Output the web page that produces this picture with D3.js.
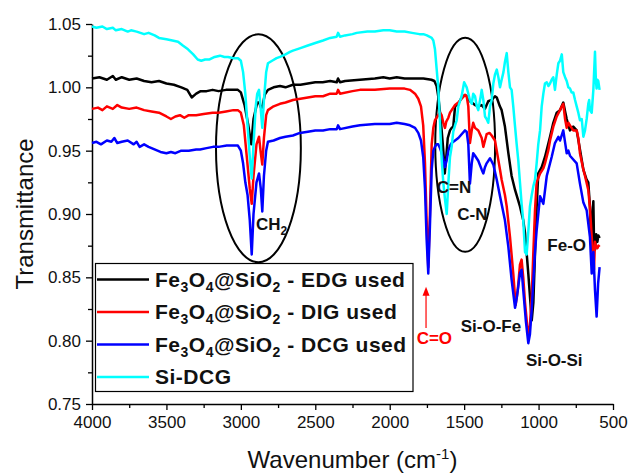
<!DOCTYPE html>
<html><head><meta charset="utf-8">
<script src="https://cdn.jsdelivr.net/npm/d3@7/dist/d3.min.js"></script>
<style>body{margin:0;background:#fff}svg{display:block}text{font-family:"Liberation Sans",Arial,sans-serif}</style>
</head><body><svg id="c" width="628" height="473"></svg>
<script>
const xTicks = [4000,3500,3000,2500,2000,1500,1000,500];
const xMinor = [3750,3250,2750,2250,1750,1250,750];
const yTicks = [0.75,0.80,0.85,0.90,0.95,1.00,1.05];
const yMinor = [0.775,0.825,0.875,0.925,0.975,1.025];
const seriesLabels = ["EDG used","DIG used","DCG used","Si-DCG"];
const seriesColors = ["#000000","#ff0000","#0000ff","#00ffff"];

const edg = [[4000,1.007],[3950,1.008],[3900,1.006],[3860,1.009],[3840,1.006],[3800,1.008],[3750,1.006],[3700,1.007],[3650,1.005],[3600,1.004],[3550,1.005],[3500,1.003],[3450,1.002],[3400,1.000],[3360,0.998],[3330,0.992],[3300,0.995],[3270,0.997],[3230,0.997],[3190,0.998],[3150,0.997],[3100,0.998],[3050,0.998],[3020,0.998],[3000,0.996],[2975,0.986],[2950,0.970],[2930,0.955],[2915,0.975],[2890,0.988],[2878,0.988],[2865,0.984],[2856,0.984],[2840,0.994],[2818,0.998],[2780,1.000],[2737,1.001],[2700,1.000],[2650,1.002],[2600,1.002],[2500,1.004],[2450,1.004],[2400,1.005],[2356,1.004],[2347,1.007],[2334,1.004],[2300,1.005],[2200,1.006],[2100,1.007],[2043,1.008],[2000,1.007],[1953,1.008],[1900,1.007],[1800,1.007],[1774,1.007],[1720,1.006],[1700,1.005],[1685,1.001],[1674,0.993],[1662,0.980],[1651,0.966],[1640,0.950],[1630,0.932],[1620,0.945],[1610,0.960],[1595,0.966],[1584,0.968],[1573,0.969],[1561,0.985],[1539,0.987],[1517,0.992],[1494,0.994],[1483,0.993],[1461,0.989],[1449,0.988],[1427,0.986],[1405,0.985],[1382,0.986],[1360,0.983],[1338,0.989],[1315,0.990],[1293,0.993],[1281,0.992],[1260,0.985],[1248,0.982],[1226,0.969],[1203,0.948],[1181,0.930],[1158,0.919],[1125,0.906],[1103,0.895],[1091,0.885],[1069,0.853],[1046,0.816],[1035,0.830],[1024,0.869],[1013,0.905],[1002,0.932],[979,0.937],[957,0.945],[923,0.961],[901,0.972],[878,0.980],[856,0.982],[834,0.988],[820,0.980],[811,0.975],[800,0.970],[789,0.966],[767,0.969],[744,0.966],[722,0.951],[699,0.935],[677,0.927],[666,0.925],[655,0.906],[645,0.872],[638,0.900],[632,0.910],[627,0.875],[620,0.872],[613,0.884],[605,0.878],[598,0.883],[590,0.881]];

const dig = [[4000,0.983],[3960,0.984],[3930,0.982],[3900,0.985],[3860,0.983],[3830,0.986],[3800,0.984],[3750,0.983],[3700,0.984],[3650,0.982],[3600,0.981],[3550,0.980],[3500,0.977],[3470,0.975],[3440,0.977],[3409,0.978],[3380,0.976],[3350,0.978],[3300,0.978],[3250,0.979],[3190,0.980],[3150,0.980],[3100,0.981],[3050,0.982],[3020,0.982],[3000,0.980],[2980,0.970],[2960,0.945],[2940,0.920],[2927,0.908],[2915,0.930],[2895,0.955],[2878,0.961],[2868,0.950],[2856,0.939],[2845,0.960],[2830,0.978],[2818,0.982],[2780,0.985],[2737,0.987],[2700,0.988],[2650,0.990],[2600,0.991],[2500,0.993],[2448,0.993],[2400,0.995],[2356,0.995],[2347,0.998],[2334,0.995],[2250,0.997],[2200,0.998],[2100,0.998],[2000,0.999],[1953,0.999],[1900,0.999],[1864,0.998],[1830,0.995],[1808,0.991],[1790,0.985],[1775,0.970],[1763,0.940],[1752,0.895],[1741,0.858],[1730,0.900],[1718,0.955],[1707,0.968],[1696,0.974],[1674,0.978],[1662,0.980],[1651,0.978],[1640,0.972],[1629,0.968],[1620,0.973],[1606,0.976],[1595,0.980],[1584,0.982],[1561,0.986],[1550,0.987],[1539,0.988],[1517,0.991],[1494,0.994],[1483,0.993],[1472,0.985],[1461,0.956],[1449,0.966],[1439,0.972],[1427,0.968],[1405,0.966],[1382,0.960],[1371,0.953],[1360,0.958],[1349,0.963],[1330,0.964],[1315,0.962],[1293,0.958],[1281,0.950],[1271,0.943],[1259,0.935],[1248,0.927],[1226,0.915],[1214,0.906],[1192,0.882],[1170,0.853],[1154,0.828],[1140,0.840],[1125,0.860],[1114,0.864],[1103,0.850],[1091,0.830],[1075,0.810],[1069,0.806],[1058,0.812],[1046,0.835],[1035,0.870],[1024,0.903],[1013,0.925],[990,0.932],[968,0.936],[957,0.940],[935,0.950],[923,0.958],[901,0.969],[878,0.977],[856,0.982],[844,0.985],[834,0.987],[822,0.975],[811,0.968],[800,0.972],[789,0.970],[767,0.966],[744,0.966],[733,0.960],[722,0.948],[699,0.935],[688,0.930],[666,0.919],[655,0.905],[643,0.882],[636,0.870],[628,0.856],[621,0.878],[615,0.875],[605,0.873],[598,0.875],[590,0.874]];

const dcg = [[4000,0.956],[3970,0.957],[3940,0.955],[3900,0.958],[3870,0.957],[3850,0.960],[3830,0.956],[3800,0.957],[3760,0.958],[3720,0.955],[3700,0.957],[3680,0.953],[3650,0.955],[3620,0.953],[3580,0.951],[3540,0.949],[3500,0.948],[3470,0.949],[3440,0.948],[3400,0.950],[3350,0.950],[3300,0.951],[3274,0.951],[3230,0.952],[3187,0.953],[3150,0.953],[3095,0.954],[3050,0.954],[3020,0.954],[3000,0.950],[2985,0.940],[2970,0.925],[2955,0.915],[2940,0.895],[2927,0.868],[2915,0.900],[2895,0.925],[2878,0.932],[2866,0.920],[2856,0.902],[2845,0.930],[2830,0.950],[2818,0.957],[2780,0.958],[2737,0.960],[2700,0.961],[2650,0.962],[2603,0.964],[2550,0.965],[2500,0.966],[2448,0.966],[2400,0.967],[2356,0.967],[2347,0.970],[2334,0.967],[2250,0.969],[2200,0.970],[2100,0.971],[2043,0.971],[2000,0.971],[1953,0.972],[1900,0.971],[1864,0.970],[1830,0.968],[1808,0.964],[1790,0.958],[1775,0.945],[1763,0.920],[1752,0.880],[1741,0.853],[1730,0.890],[1718,0.935],[1707,0.950],[1696,0.953],[1685,0.955],[1674,0.955],[1662,0.952],[1651,0.948],[1640,0.943],[1629,0.937],[1618,0.942],[1606,0.950],[1595,0.954],[1584,0.956],[1561,0.958],[1539,0.960],[1517,0.963],[1494,0.966],[1483,0.965],[1472,0.955],[1461,0.924],[1449,0.940],[1439,0.948],[1427,0.946],[1405,0.942],[1382,0.935],[1371,0.932],[1360,0.937],[1349,0.940],[1326,0.944],[1304,0.939],[1281,0.927],[1259,0.914],[1226,0.895],[1203,0.874],[1181,0.848],[1158,0.826],[1145,0.835],[1125,0.853],[1114,0.856],[1103,0.840],[1085,0.815],[1069,0.798],[1058,0.805],[1046,0.825],[1024,0.870],[1013,0.887],[990,0.914],[968,0.908],[945,0.930],[912,0.945],[890,0.956],[867,0.961],[856,0.958],[834,0.966],[820,0.955],[811,0.948],[800,0.950],[789,0.946],[767,0.943],[744,0.940],[722,0.924],[699,0.909],[677,0.903],[655,0.882],[643,0.853],[632,0.870],[621,0.840],[610,0.819],[600,0.845],[590,0.858]];

const sidcg = [[4000,1.048],[3970,1.047],[3930,1.048],[3900,1.046],[3860,1.047],[3840,1.045],[3800,1.046],[3760,1.044],[3738,1.045],[3700,1.044],[3650,1.042],[3620,1.043],[3579,1.041],[3550,1.039],[3500,1.038],[3460,1.037],[3422,1.036],[3390,1.033],[3355,1.030],[3320,1.026],[3290,1.022],[3266,1.021],[3240,1.022],[3210,1.022],[3176,1.024],[3140,1.025],[3110,1.024],[3086,1.024],[3050,1.023],[3019,1.023],[3000,1.021],[2985,1.012],[2970,0.995],[2955,0.970],[2940,0.945],[2927,0.928],[2915,0.955],[2900,0.985],[2890,0.995],[2878,0.998],[2868,0.985],[2856,0.968],[2845,0.990],[2830,1.012],[2818,1.019],[2790,1.021],[2760,1.023],[2737,1.024],[2700,1.026],[2670,1.028],[2650,1.029],[2600,1.031],[2550,1.033],[2500,1.035],[2448,1.037],[2400,1.039],[2356,1.040],[2347,1.043],[2334,1.040],[2300,1.041],[2250,1.042],[2222,1.043],[2150,1.044],[2100,1.044],[2043,1.045],[2000,1.045],[1953,1.044],[1900,1.044],[1850,1.043],[1800,1.042],[1774,1.042],[1750,1.041],[1718,1.039],[1707,1.037],[1696,1.030],[1685,1.015],[1674,1.000],[1662,0.972],[1651,0.943],[1640,0.925],[1629,0.912],[1617,0.900],[1606,0.925],[1595,0.945],[1584,0.953],[1573,0.965],[1561,0.970],[1550,0.974],[1539,0.985],[1517,0.993],[1500,1.004],[1483,1.000],[1461,0.990],[1449,0.987],[1439,0.995],[1427,0.993],[1415,0.985],[1405,0.982],[1390,0.992],[1382,0.998],[1371,0.990],[1360,0.977],[1349,0.975],[1338,0.972],[1326,0.985],[1315,0.990],[1304,1.003],[1293,1.010],[1281,1.014],[1270,1.008],[1259,1.000],[1248,1.006],[1236,1.012],[1226,1.020],[1214,1.027],[1203,1.012],[1192,1.000],[1181,0.998],[1170,0.985],[1158,0.969],[1147,0.955],[1136,0.942],[1125,0.925],[1114,0.908],[1103,0.895],[1091,0.870],[1080,0.868],[1069,0.886],[1058,0.906],[1046,0.915],[1035,0.922],[1024,0.927],[1013,0.940],[1002,0.955],[990,0.966],[979,0.985],[968,0.995],[957,1.003],[945,1.004],[934,1.001],[923,1.003],[912,1.006],[901,1.008],[890,0.998],[878,1.010],[867,1.019],[856,1.021],[844,1.026],[834,1.012],[822,1.008],[811,1.005],[800,1.000],[789,0.999],[778,0.996],[767,0.996],[755,0.990],[744,0.985],[733,0.980],[722,0.974],[710,0.975],[699,0.961],[688,0.966],[677,0.975],[666,0.987],[660,0.990],[655,0.982],[643,0.980],[632,0.998],[621,1.028],[615,1.005],[610,0.999],[605,1.006],[599,1.005],[590,0.998]];

const seriesData = [edg, dig, dcg, sidcg];

// annotations in data units
const peakLabels = [
  {t:"C=N", wn:1684, v:0.9163},
  {t:"C-N", wn:1546, v:0.8953},
  {t:"Fe-O", wn:941, v:0.871},
  {t:"Si-O-Fe", wn:1523, v:0.8071},
  {t:"Si-O-Si", wn:1085, v:0.780}
];
const ellipses = [{wn:2882, v:0.9519, rw:285, rv:0.090},{wn:1493, v:0.9547, rw:201, rv:0.0845}];

const svg = d3.select("#c");
const L=92, R=613, T=24, B=404;
const x = d3.scaleLinear().domain([4000,500]).range([L,R]);
const y = d3.scaleLinear().domain([0.75,1.05]).range([B,T]);

// axes
const gx = svg.append("g").attr("transform",`translate(0,${B})`);
gx.call(d3.axisBottom(x).tickValues(xTicks).tickSize(6).tickSizeOuter(0).tickPadding(6).tickFormat(d3.format("d")));
const gxm = svg.append("g").attr("transform",`translate(0,${B})`);
gxm.call(d3.axisBottom(x).tickValues(xMinor).tickSize(4).tickSizeOuter(0).tickFormat(""));
gxm.select(".domain").remove();
const gy = svg.append("g").attr("transform",`translate(${L},0)`);
gy.call(d3.axisLeft(y).tickValues(yTicks).tickSize(6).tickSizeOuter(0).tickPadding(5).tickFormat(d3.format(".2f")));
const gym = svg.append("g").attr("transform",`translate(${L},0)`);
gym.call(d3.axisLeft(y).tickValues(yMinor).tickSize(4).tickSizeOuter(0).tickFormat(""));
gym.select(".domain").remove();
svg.selectAll(".domain").attr("stroke","#000").attr("stroke-width",1.5);
svg.selectAll(".tick line").attr("stroke","#000").attr("stroke-width",1.3);
svg.selectAll(".tick text").attr("font-size",17).attr("fill","#111").style("font-family","'Liberation Sans',Arial,sans-serif");

// axis titles
const xt = svg.append("text").attr("x",(L+R)/2).attr("y",468).attr("text-anchor","middle").attr("font-size",24).attr("fill","#111");
xt.append("tspan").text("Wavenumber (cm");
xt.append("tspan").attr("dy",-9).attr("font-size",15).text("-1");
xt.append("tspan").attr("dy",9).text(")");
svg.append("text").attr("transform","translate(33,214) rotate(-90)").attr("text-anchor","middle").attr("font-size",24).attr("fill","#111").text("Transmittance");

// ellipses
ellipses.forEach(e=>{
  svg.append("ellipse").attr("cx",x(e.wn)).attr("cy",y(e.v))
    .attr("rx",Math.abs(x(e.wn+e.rw)-x(e.wn))).attr("ry",Math.abs(y(e.v+e.rv)-y(e.v)))
    .attr("fill","none").attr("stroke","#000").attr("stroke-width",2);
});

// lines
const line = d3.line().x(d=>x(d[0])).y(d=>y(d[1]));
seriesData.forEach((s,i)=>{
  svg.append("path").datum(s).attr("d",line).attr("fill","none")
    .attr("stroke",seriesColors[i]).attr("stroke-width",2.5).attr("stroke-linejoin","round");
});

// peak labels
const ab = svg.append("g").attr("font-weight","bold").attr("font-size",17).attr("fill","#111");
peakLabels.forEach(p=>{ ab.append("text").attr("x",x(p.wn)).attr("y",y(p.v)).text(p.t); });
const ch = ab.append("text").attr("x",x(2898)).attr("y",y(0.8874));
ch.append("tspan").text("CH");
ch.append("tspan").attr("dy",5).attr("font-size",12).text("2");
// C=O and arrow
svg.append("text").attr("x",x(1819)).attr("y",y(0.7974)).attr("font-weight","bold").attr("font-size",17).attr("fill","#ff0000").text("C=O");
const ax = x(1756);
svg.append("line").attr("x1",ax).attr("x2",ax).attr("y1",y(0.810)).attr("y2",y(0.838)).attr("stroke","#ff0000").attr("stroke-width",1.2);
svg.append("path").attr("d",`M${ax},${y(0.8426)} L${ax-3.5},${y(0.8426)+9} L${ax+3.5},${y(0.8426)+9}Z`).attr("fill","#ff0000");

// legend
const lg = svg.append("g");
lg.append("rect").attr("x",95.5).attr("y",263.5).attr("width",317.5).attr("height",128).attr("fill","#fff").attr("stroke","#000").attr("stroke-width",1.2);
seriesLabels.forEach((lab,i)=>{
  const cy = 279.5 + i*32.5;
  lg.append("line").attr("x1",97).attr("x2",149).attr("y1",cy).attr("y2",cy).attr("stroke",seriesColors[i]).attr("stroke-width",2.5);
  const t = lg.append("text").attr("x",155).attr("y",cy+7).attr("font-weight","bold").attr("font-size",21).attr("letter-spacing",0.5).attr("fill","#111");
  if(i<3){
    t.append("tspan").text("Fe");
    t.append("tspan").attr("dy",5).attr("font-size",14).text("3");
    t.append("tspan").attr("dy",-5).text("O");
    t.append("tspan").attr("dy",5).attr("font-size",14).text("4");
    t.append("tspan").attr("dy",-5).text("@SiO");
    t.append("tspan").attr("dy",5).attr("font-size",14).text("2");
    t.append("tspan").attr("dy",-5).text(" - " + lab);
  } else {
    t.text(lab);
  }
});
</script></body></html>
